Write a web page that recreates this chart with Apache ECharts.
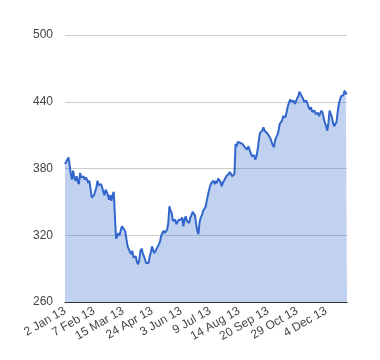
<!DOCTYPE html>
<html>
<head>
<meta charset="utf-8">
<script src="https://cdn.jsdelivr.net/npm/echarts@6/dist/echarts.min.js"></script>
<style>
  html, body { margin: 0; padding: 0; background: #ffffff; }
  #chart { width: 380px; height: 360px; }
</style>
</head>
<body>
<div id="chart"></div>
<script>
// Tick labels shown on the category axis (every 25th point)
var tickLabels = ['2 Jan 13', '7 Feb 13', '15 Mar 13', '24 Apr 13', '3 Jun 13',
                  '9 Jul 13', '14 Aug 13', '20 Sep 13', '29 Oct 13', '4 Dec 13'];
var labelStep = 25;

// Daily values
var values = [
  384,386,388,390,383,375,370,378,372,369,
  373,368,366,376,372,371,373,370,372,370,
  367,369,362,354,355,356,357,363,369,365,
  366,366,363,359,356,361,359,356,352,356,
  351,356,359,359,317,319,322,320,324,328,
  329,325,323,316,310,309,305,303,306,300,
  299,301,296,294,298,306,308,304,301,298,
  295,296,295,301,305,310,306,304,306,308,
  309,312,315,320,322,324,322,323,325,331,
  346,342,340,333,332,334,330,332,334,333,
  334,336,328,334,337,333,332,331,336,338,
  341,342,338,330,324,321,332,336,338,342,
  343,345,350,355,360,364,367,368,369,366,
  369,367,371,370,368,364,367,369,370,373,
  372,375,377,376,373,374,375,402,400,404,
  405,403,402,402,403,399,398,397,400,397,
  394,391,390,392,388,391,397,405,412,413,
  414,417,414,413,412,411,409,407,406,401,
  399,405,408,410,414,420,421,423,427,426,
  426,431,436,439,442,440,439,441,438,440,
  443,445,449,447,446,443,440,439,441,438,
  435,433,435,431,430,432,429,429,430,427,
  430,432,430,425,421,418,414,421,432,433,
  426,421,418,420,422,431,438,442,445,444,
  446,450,447,448
];

// Y-axis scale
var yMin = 260, yMax = 500, yStep = 60;

var categories = values.map(function (v, i) {
  return (i % labelStep === 0 && tickLabels[i / labelStep]) ? tickLabels[i / labelStep] : '';
});

var chart = echarts.init(document.getElementById('chart'), null, { renderer: 'canvas' });
chart.setOption({
  animation: false,
  backgroundColor: '#ffffff',
  grid: { left: 65, right: 33, top: 35, bottom: 58, containLabel: false },
  xAxis: {
    type: 'category',
    data: categories,
    boundaryGap: false,
    axisLine: { show: true, lineStyle: { color: '#333333', width: 1 } },
    axisTick: { show: false },
    splitLine: { show: false },
    axisLabel: {
      interval: labelStep - 1,
      rotate: 30,
      margin: 8,
      color: '#444444',
      fontFamily: 'Liberation Sans, Arial, sans-serif',
      fontSize: 12
    }
  },
  yAxis: {
    type: 'value',
    min: yMin,
    max: yMax,
    interval: yStep,
    axisLine: { show: false },
    axisTick: { show: false },
    splitLine: { show: true, lineStyle: { color: '#cccccc', width: 1 } },
    axisLabel: {
      margin: 12,
      color: '#444444',
      fontFamily: 'Liberation Sans, Arial, sans-serif',
      fontSize: 12
    }
  },
  series: [{
    type: 'line',
    data: values,
    showSymbol: false,
    symbol: 'none',
    lineStyle: { color: '#3366cc', width: 2 },
    itemStyle: { color: '#3366cc' },
    areaStyle: { color: '#3366cc', opacity: 0.3 },
    z: 2
  }]
});
</script>
</body>
</html>
